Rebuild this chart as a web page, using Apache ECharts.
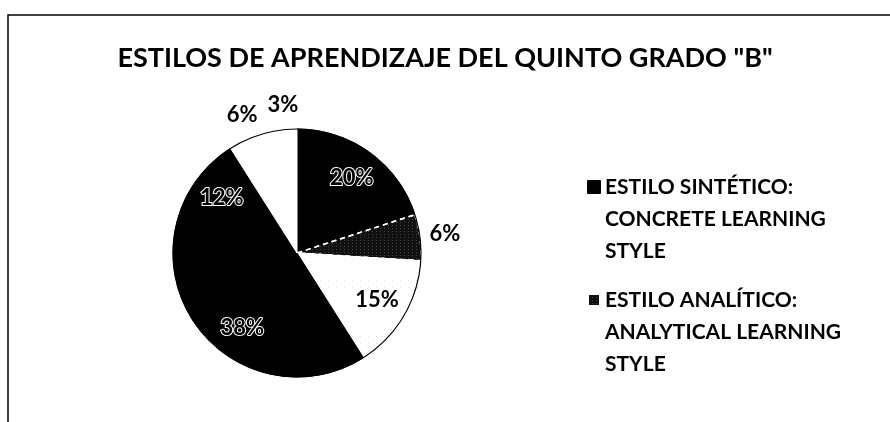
<!DOCTYPE html>
<html>
<head>
<meta charset="utf-8">
<script src="https://cdn.jsdelivr.net/npm/echarts@6/dist/echarts.min.js"></script>
<style>
  html, body { margin: 0; padding: 0; background: #fff; }
  #chart { width: 890px; height: 422px; }
</style>
</head>
<body>
<div id="chart"></div>
<script>
const title = 'ESTILOS DE APRENDIZAJE DEL QUINTO GRADO "B"'
const names = [
    'ESTILO SINTÉTICO: CONCRETE LEARNING STYLE',
    'ESTILO ANALÍTICO: ANALYTICAL LEARNING STYLE',
    'ESTILO 3',
    'ESTILO 4',
    'ESTILO 5',
    'ESTILO 6',
    'ESTILO 7'
]
const values = [20, 6, 15, 38, 12, 6, 3]
const legendNames = names.slice(0, 2)
const legendLines = {
    'ESTILO SINTÉTICO: CONCRETE LEARNING STYLE': ['ESTILO SINTÉTICO:', 'CONCRETE LEARNING', 'STYLE'],
    'ESTILO ANALÍTICO: ANALYTICAL LEARNING STYLE': ['ESTILO ANALÍTICO:', 'ANALYTICAL LEARNING', 'STYLE']
}
// which slices put their label outside the pie
const outside = [false, true, false, false, false, true, true]

const font = 'Lato'
const center = [297, 253]
const radius = 124

const styles = [
    { color: '#000', borderColor: '#000', borderWidth: 1 },
    {
        color: '#111', borderColor: '#fff', borderWidth: 1.5, borderType: [5, 4],
        decal: { symbol: 'rect', symbolSize: 0.6, color: 'rgba(255,255,255,0.7)', dashArrayX: [1, 3], dashArrayY: [1, 2] }
    },
    {
        color: '#fff', borderColor: '#fff', borderWidth: 1,
        decal: { symbol: 'rect', symbolSize: 0.5, color: '#999', dashArrayX: [1, 7], dashArrayY: [1, 6] }
    },
    { color: '#000', borderColor: '#000', borderWidth: 1 },
    { color: '#000', borderColor: '#000', borderWidth: 1 },
    { color: '#fff', borderColor: '#fff', borderWidth: 1 },
    { color: '#fff', borderColor: '#fff', borderWidth: 1 }
]

const slices = values.map((v, i) => ({ name: names[i], value: v, itemStyle: styles[i] }))

const labelData = function (showOutside) {
    return values.map((v, i) => ({
        name: names[i],
        value: v,
        label: { show: outside[i] === showOutside }
    }))
}

const chart = echarts.init(document.getElementById('chart'), null, { renderer: 'canvas' })
chart.setOption({
    animation: false,
    backgroundColor: '#fff',
    title: {
        text: title,
        left: 'center',
        top: 40,
        textStyle: { fontFamily: font, fontWeight: 'bold', fontSize: 27, color: '#000' }
    },
    graphic: [{
        type: 'rect',
        shape: { x: 8, y: 15, width: 900, height: 420 },
        style: { fill: 'none', stroke: '#000', lineWidth: 1.5 },
        silent: true
    }],
    legend: {
        orient: 'vertical',
        left: 587,
        top: 107,
        padding: 0,
        itemGap: -47,
        itemWidth: 12,
        itemHeight: 12,
        icon: 'rect',
        data: legendNames,
        // two empty lines first so the icon sits beside the first line
        formatter: n => '\n\n' + (legendLines[n] || [n]).join('\n'),
        textStyle: {
            fontFamily: font, fontWeight: 'bold', fontSize: 21, color: '#000',
            lineHeight: 32
        }
    },
    series: [
        {
            type: 'pie',
            center: center,
            radius: radius,
            startAngle: 90,
            clockwise: true,
            avoidLabelOverlap: false,
            label: { show: false },
            labelLine: { show: false },
            emphasis: { disabled: true },
            data: slices
        },
        {
            // outline of the whole pie
            type: 'pie',
            center: center,
            radius: radius,
            silent: true,
            label: { show: false },
            labelLine: { show: false },
            itemStyle: { color: 'rgba(0,0,0,0)', borderColor: '#000', borderWidth: 1.2 },
            data: [{ name: 'outline', value: 1 }]
        },
        {
            // inside labels
            type: 'pie',
            center: center,
            radius: 180,
            silent: true,
            avoidLabelOverlap: false,
            itemStyle: { color: 'rgba(0,0,0,0)' },
            label: {
                position: 'inside',
                formatter: '{c}%',
                fontFamily: font, fontWeight: 'bold', fontSize: 22,
                color: '#000', textBorderColor: '#fff', textBorderWidth: 2
            },
            labelLine: { show: false },
            data: labelData(false).map((d, i) => {
                if (styles[i].color === '#fff') d.label.textBorderWidth = 0
                return d
            })
        },
        {
            // outside labels
            type: 'pie',
            center: center,
            radius: 292,
            silent: true,
            avoidLabelOverlap: false,
            itemStyle: { color: 'rgba(0,0,0,0)' },
            label: {
                position: 'inside',
                formatter: '{c}%',
                fontFamily: font, fontWeight: 'bold', fontSize: 22, color: '#000'
            },
            labelLine: { show: false },
            data: labelData(true)
        }
    ]
})
</script>
</body>
</html>
